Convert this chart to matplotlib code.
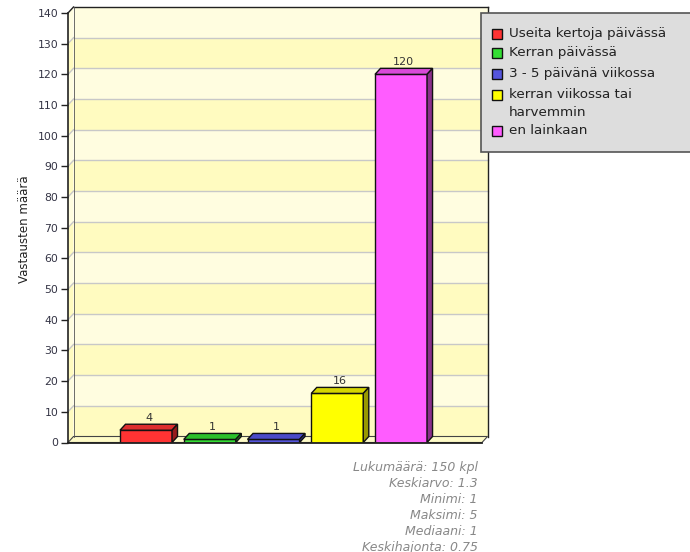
import matplotlib
matplotlib.use("Agg")
import matplotlib.pyplot as plt
from matplotlib.patches import Polygon, Rectangle

categories = ["Useita kertoja päivässä", "Kerran päivässä", "3 - 5 päivänä viikossa",
              "kerran viikossa tai\nharvemmin", "en lainkaan"]
values = [4, 1, 1, 16, 120]
front_colors = ["#ff3333", "#33dd33", "#5555dd", "#ffff00", "#ff5cff"]
top_colors = ["#dd2e2e", "#2cc02c", "#4a4ac8", "#d6d600", "#d94ad9"]
side_colors = ["#961c1c", "#1f8a1f", "#303090", "#999900", "#8a2e8a"]
yticks = list(range(0, 141, 10))
stats_lines = ["Lukumäärä: 150 kpl", "Keskiarvo: 1.3", "Minimi: 1", "Maksimi: 5",
               "Mediaani: 1", "Keskihajonta: 0.75"]
ylabel = "Vastausten määrä"

W, H = 690, 552
fig = plt.figure(figsize=(W / 100, H / 100), dpi=100)
ax = fig.add_axes([68 / W, 1 - 442.5 / H, (482 - 68) / W, (442.5 - 13) / H])
xmin, xmax = -0.2235, 6.27
ax.set_xlim(xmin, xmax)
ax.set_ylim(0, 140)
ax.patch.set_visible(False)

# depth offsets in data units
ppx = ((482 - 68)) / (xmax - xmin)
ppy = (442.5 - 13) / 140
dx, dy = 5.5 / ppx, 6 / ppy

light, dark = "#fffde0", "#fffbc0"
for i in range(len(yticks) - 1):
    y0, y1 = yticks[i], yticks[i + 1]
    c = dark if i % 2 == 0 else light
    ax.add_patch(Rectangle((xmin + dx, y0 + dy), xmax - xmin, y1 - y0, facecolor=c,
                           edgecolor="none", zorder=0, clip_on=False))
    ax.add_patch(Polygon([(xmin, y0), (xmin + dx, y0 + dy), (xmin + dx, y1 + dy), (xmin, y1)],
                         closed=True, facecolor=c, edgecolor="none", zorder=0, clip_on=False))
for t in yticks[1:-1]:
    ax.plot([xmin + dx, xmax + dx], [t + dy, t + dy], color="#c8c8c8", lw=1, zorder=1, clip_on=False)
    ax.plot([xmin, xmin + dx], [t, t + dy], color="#c8c8c8", lw=1, zorder=1, clip_on=False)

# floor
ax.add_patch(Polygon([(xmin, 0), (xmax, 0), (xmax + dx, dy), (xmin + dx, dy)], closed=True,
                     facecolor="#fffcc8", edgecolor="#444444", lw=0.8, zorder=1, clip_on=False))
# frame lines
ax.plot([xmin + dx, xmax + dx], [140 + dy, 140 + dy], color="#222222", lw=1, zorder=2, clip_on=False)
ax.plot([xmax + dx, xmax + dx], [dy, 140 + dy], color="#222222", lw=1, zorder=2, clip_on=False)
ax.plot([xmin, xmin + dx], [140, 140 + dy], color="#222222", lw=1, zorder=2, clip_on=False)
ax.plot([xmin + dx, xmin + dx], [dy, 140 + dy], color="#555555", lw=0.6, zorder=2, clip_on=False)
ax.plot([xmin, xmax], [0, 0], color="#222222", lw=1.3, zorder=6, clip_on=False)

# bars
bw = 0.816
for i, (v, fc, tc, sc) in enumerate(zip(values, front_colors, top_colors, side_colors)):
    x = i + 1
    x0, x1 = x - bw / 2, x + bw / 2
    ax.add_patch(Rectangle((x0, 0), bw, v, facecolor=fc, edgecolor="#111111", lw=1, zorder=4))
    ax.add_patch(Polygon([(x0, v), (x1, v), (x1 + dx, v + dy), (x0 + dx, v + dy)], closed=True,
                         facecolor=tc, edgecolor="#111111", lw=1, zorder=4))
    ax.add_patch(Polygon([(x1, 0), (x1 + dx, dy), (x1 + dx, v + dy), (x1, v)], closed=True,
                         facecolor=sc, edgecolor="#111111", lw=1, zorder=4))
    ax.text(x + dx / 2, v + dy + 0.5, str(v), ha="center", va="bottom", fontsize=8,
            color="#333333", zorder=5)

# y axis
for s in ["top", "right", "bottom"]:
    ax.spines[s].set_visible(False)
ax.spines["left"].set_color("#222222")
ax.spines["left"].set_linewidth(1.2)
ax.set_yticks(yticks)
ax.set_xticks([])
ax.tick_params(axis="y", direction="out", length=5, width=1, colors="#222222",
               labelsize=7.8, labelcolor="#333344", pad=2)
fig.text(25 / W, 1 - 229 / H, ylabel, rotation=90, ha="center", va="center",
         fontsize=8.5, color="#222222")

# legend box
lx0, ly0, lx1, ly1 = 481, 13, 692, 152
fig.patches.append(Rectangle((lx0 / W, 1 - ly1 / H), (lx1 - lx0) / W, (ly1 - ly0) / H,
                             transform=fig.transFigure, facecolor="#dddddd",
                             edgecolor="#555555", lw=1.2, zorder=10))
ys = [34, 53, 74, 95, 131]
for lab, fc, yy in zip(categories, front_colors, ys):
    fig.patches.append(Rectangle((492 / W, 1 - (yy + 5) / H), 10 / W, 10 / H,
                                 transform=fig.transFigure, facecolor=fc,
                                 edgecolor="#111111", lw=1, zorder=11))
    fig.text(509 / W, 1 - (yy - 7) / H, lab, ha="left", va="top", fontsize=9.7,
             color="#222222", zorder=12, linespacing=1.5)

# stats
for k, line in enumerate(stats_lines):
    fig.text(478 / W, 1 - (467 + k * 16.2) / H, line, ha="right", va="center",
             fontsize=9, style="italic", color="#888888")

fig.savefig("out.png", dpi=100, facecolor="white")
